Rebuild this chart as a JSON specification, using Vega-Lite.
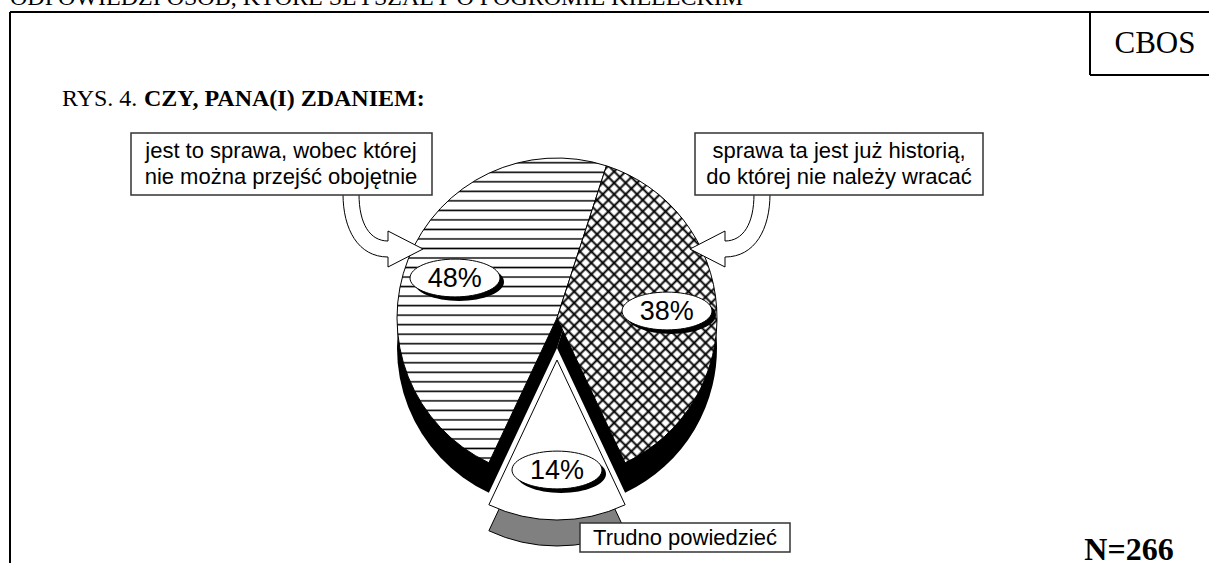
{
"$schema":"https://vega.github.io/schema/vega-lite/v6.json",
"width":1209,"height":563,
"autosize":{"type":"none"},
"padding":0,
"background":"#ffffff",
"config":{"view":{"stroke":null}},
"datasets":{"pie":[
{"k":1,"odp":"sprawa ta jest już historią, do której nie należy wracać","pct":38,"lab":"38%"},
{"k":2,"odp":"Trudno powiedzieć","pct":14,"lab":"14%"},
{"k":3,"odp":"jest to sprawa, wobec której nie można przejść obojętnie","pct":48,"lab":"48%"}
]},
"layer":[
{"data":{"values":[{}]},"mark":{"type":"text","font":"Liberation Serif","fontSize":24,"align":"left","baseline":"alphabetic"},"encoding":{"x":{"value":10},"y":{"value":5},"text":{"value":"ODPOWIEDZI OSÓB, KTÓRE SŁYSZAŁY O POGROMIE KIELECKIM"}}},
{"data":{"values":[{}]},"mark":{"type":"rule","strokeWidth":2,"color":"#000"},"encoding":{"x":{"value":10},"x2":{"value":1209},"y":{"value":12},"y2":{"value":12}}},
{"data":{"values":[{}]},"mark":{"type":"rule","strokeWidth":2,"color":"#000"},"encoding":{"x":{"value":10},"x2":{"value":10},"y":{"value":12},"y2":{"value":563}}},
{"data":{"values":[{}]},"mark":{"type":"rule","strokeWidth":2,"color":"#000"},"encoding":{"x":{"value":1090},"x2":{"value":1090},"y":{"value":12},"y2":{"value":75}}},
{"data":{"values":[{}]},"mark":{"type":"rule","strokeWidth":2,"color":"#000"},"encoding":{"x":{"value":1090},"x2":{"value":1209},"y":{"value":75},"y2":{"value":75}}},
{"data":{"values":[{}]},"mark":{"type":"text","font":"Liberation Serif","fontSize":31,"align":"center","baseline":"alphabetic"},"encoding":{"x":{"value":1155},"y":{"value":53},"text":{"value":"CBOS"}}},
{"data":{"values":[{}]},"mark":{"type":"text","font":"Liberation Serif","fontSize":24,"align":"left","baseline":"alphabetic"},"encoding":{"x":{"value":62},"y":{"value":106},"text":{"value":"RYS. 4."}}},
{"data":{"values":[{}]},"mark":{"type":"text","font":"Liberation Serif","fontSize":24,"fontWeight":"bold","align":"left","baseline":"alphabetic"},"encoding":{"x":{"value":144},"y":{"value":106},"text":{"value":"CZY, PANA(I) ZDANIEM:"}}},
{"data":{"name":"pie"},
 "encoding":{"theta":{"field":"pct","type":"quantitative","stack":true,"scale":{"range":[0.3142,6.5974]}},"order":{"field":"k","type":"quantitative"},"x":{"value":557}},
 "layer":[
  {"mark":{"type":"arc","radius":160,"fill":"#000"},"encoding":{"y":{"value":348},"opacity":{"condition":{"test":"datum.k == 2","value":0},"value":1}}},
  {"mark":{"type":"arc","radius":160,"fill":"#808080","stroke":"#000","strokeWidth":1},"encoding":{"y":{"value":386},"opacity":{"condition":{"test":"datum.k == 2","value":1},"value":0}}},
  {"mark":{"type":"arc","radius":160,"stroke":"#000","strokeWidth":1,"fill":{"gradient":"linear","x1":0,"y1":0,"x2":0,"y2":1,"stops":[
{"offset":0.0106,"color":"#fff"},{"offset":0.0156,"color":"#000"},{"offset":0.0206,"color":"#fff"},
{"offset":0.0419,"color":"#fff"},{"offset":0.0469,"color":"#000"},{"offset":0.0519,"color":"#fff"},
{"offset":0.0731,"color":"#fff"},{"offset":0.0781,"color":"#000"},{"offset":0.0831,"color":"#fff"},
{"offset":0.1044,"color":"#fff"},{"offset":0.1094,"color":"#000"},{"offset":0.1144,"color":"#fff"},
{"offset":0.1356,"color":"#fff"},{"offset":0.1406,"color":"#000"},{"offset":0.1456,"color":"#fff"},
{"offset":0.1669,"color":"#fff"},{"offset":0.1719,"color":"#000"},{"offset":0.1769,"color":"#fff"},
{"offset":0.1981,"color":"#fff"},{"offset":0.2031,"color":"#000"},{"offset":0.2081,"color":"#fff"},
{"offset":0.2294,"color":"#fff"},{"offset":0.2344,"color":"#000"},{"offset":0.2394,"color":"#fff"},
{"offset":0.2606,"color":"#fff"},{"offset":0.2656,"color":"#000"},{"offset":0.2706,"color":"#fff"},
{"offset":0.2919,"color":"#fff"},{"offset":0.2969,"color":"#000"},{"offset":0.3019,"color":"#fff"},
{"offset":0.3231,"color":"#fff"},{"offset":0.3281,"color":"#000"},{"offset":0.3331,"color":"#fff"},
{"offset":0.3544,"color":"#fff"},{"offset":0.3594,"color":"#000"},{"offset":0.3644,"color":"#fff"},
{"offset":0.3856,"color":"#fff"},{"offset":0.3906,"color":"#000"},{"offset":0.3956,"color":"#fff"},
{"offset":0.4169,"color":"#fff"},{"offset":0.4219,"color":"#000"},{"offset":0.4269,"color":"#fff"},
{"offset":0.4481,"color":"#fff"},{"offset":0.4531,"color":"#000"},{"offset":0.4581,"color":"#fff"},
{"offset":0.4794,"color":"#fff"},{"offset":0.4844,"color":"#000"},{"offset":0.4894,"color":"#fff"},
{"offset":0.5106,"color":"#fff"},{"offset":0.5156,"color":"#000"},{"offset":0.5206,"color":"#fff"},
{"offset":0.5419,"color":"#fff"},{"offset":0.5469,"color":"#000"},{"offset":0.5519,"color":"#fff"},
{"offset":0.5731,"color":"#fff"},{"offset":0.5781,"color":"#000"},{"offset":0.5831,"color":"#fff"},
{"offset":0.6044,"color":"#fff"},{"offset":0.6094,"color":"#000"},{"offset":0.6144,"color":"#fff"},
{"offset":0.6356,"color":"#fff"},{"offset":0.6406,"color":"#000"},{"offset":0.6456,"color":"#fff"},
{"offset":0.6669,"color":"#fff"},{"offset":0.6719,"color":"#000"},{"offset":0.6769,"color":"#fff"},
{"offset":0.6981,"color":"#fff"},{"offset":0.7031,"color":"#000"},{"offset":0.7081,"color":"#fff"},
{"offset":0.7294,"color":"#fff"},{"offset":0.7344,"color":"#000"},{"offset":0.7394,"color":"#fff"},
{"offset":0.7606,"color":"#fff"},{"offset":0.7656,"color":"#000"},{"offset":0.7706,"color":"#fff"},
{"offset":0.7919,"color":"#fff"},{"offset":0.7969,"color":"#000"},{"offset":0.8019,"color":"#fff"},
{"offset":0.8231,"color":"#fff"},{"offset":0.8281,"color":"#000"},{"offset":0.8331,"color":"#fff"},
{"offset":0.8544,"color":"#fff"},{"offset":0.8594,"color":"#000"},{"offset":0.8644,"color":"#fff"},
{"offset":0.8856,"color":"#fff"},{"offset":0.8906,"color":"#000"},{"offset":0.8956,"color":"#fff"},
{"offset":0.9169,"color":"#fff"},{"offset":0.9219,"color":"#000"},{"offset":0.9269,"color":"#fff"},
{"offset":0.9481,"color":"#fff"},{"offset":0.9531,"color":"#000"},{"offset":0.9581,"color":"#fff"},
{"offset":0.9794,"color":"#fff"},{"offset":0.9844,"color":"#000"},{"offset":0.9894,"color":"#fff"}
]}},"encoding":{"y":{"value":318},"opacity":{"condition":{"test":"datum.k == 3","value":1},"value":0}}},
  {"mark":{"type":"arc","radius":160,"fill":{"gradient":"linear","x1":0,"y1":0,"x2":0.6428,"y2":1.1926,"stops":[
{"offset":0.0065,"color":"#fff"},{"offset":0.0125,"color":"#000"},{"offset":0.0185,"color":"#fff"},
{"offset":0.0315,"color":"#fff"},{"offset":0.0375,"color":"#000"},{"offset":0.0435,"color":"#fff"},
{"offset":0.0565,"color":"#fff"},{"offset":0.0625,"color":"#000"},{"offset":0.0685,"color":"#fff"},
{"offset":0.0815,"color":"#fff"},{"offset":0.0875,"color":"#000"},{"offset":0.0935,"color":"#fff"},
{"offset":0.1065,"color":"#fff"},{"offset":0.1125,"color":"#000"},{"offset":0.1185,"color":"#fff"},
{"offset":0.1315,"color":"#fff"},{"offset":0.1375,"color":"#000"},{"offset":0.1435,"color":"#fff"},
{"offset":0.1565,"color":"#fff"},{"offset":0.1625,"color":"#000"},{"offset":0.1685,"color":"#fff"},
{"offset":0.1815,"color":"#fff"},{"offset":0.1875,"color":"#000"},{"offset":0.1935,"color":"#fff"},
{"offset":0.2065,"color":"#fff"},{"offset":0.2125,"color":"#000"},{"offset":0.2185,"color":"#fff"},
{"offset":0.2315,"color":"#fff"},{"offset":0.2375,"color":"#000"},{"offset":0.2435,"color":"#fff"},
{"offset":0.2565,"color":"#fff"},{"offset":0.2625,"color":"#000"},{"offset":0.2685,"color":"#fff"},
{"offset":0.2815,"color":"#fff"},{"offset":0.2875,"color":"#000"},{"offset":0.2935,"color":"#fff"},
{"offset":0.3065,"color":"#fff"},{"offset":0.3125,"color":"#000"},{"offset":0.3185,"color":"#fff"},
{"offset":0.3315,"color":"#fff"},{"offset":0.3375,"color":"#000"},{"offset":0.3435,"color":"#fff"},
{"offset":0.3565,"color":"#fff"},{"offset":0.3625,"color":"#000"},{"offset":0.3685,"color":"#fff"},
{"offset":0.3815,"color":"#fff"},{"offset":0.3875,"color":"#000"},{"offset":0.3935,"color":"#fff"},
{"offset":0.4065,"color":"#fff"},{"offset":0.4125,"color":"#000"},{"offset":0.4185,"color":"#fff"},
{"offset":0.4315,"color":"#fff"},{"offset":0.4375,"color":"#000"},{"offset":0.4435,"color":"#fff"},
{"offset":0.4565,"color":"#fff"},{"offset":0.4625,"color":"#000"},{"offset":0.4685,"color":"#fff"},
{"offset":0.4815,"color":"#fff"},{"offset":0.4875,"color":"#000"},{"offset":0.4935,"color":"#fff"},
{"offset":0.5065,"color":"#fff"},{"offset":0.5125,"color":"#000"},{"offset":0.5185,"color":"#fff"},
{"offset":0.5315,"color":"#fff"},{"offset":0.5375,"color":"#000"},{"offset":0.5435,"color":"#fff"},
{"offset":0.5565,"color":"#fff"},{"offset":0.5625,"color":"#000"},{"offset":0.5685,"color":"#fff"},
{"offset":0.5815,"color":"#fff"},{"offset":0.5875,"color":"#000"},{"offset":0.5935,"color":"#fff"},
{"offset":0.6065,"color":"#fff"},{"offset":0.6125,"color":"#000"},{"offset":0.6185,"color":"#fff"},
{"offset":0.6315,"color":"#fff"},{"offset":0.6375,"color":"#000"},{"offset":0.6435,"color":"#fff"},
{"offset":0.6565,"color":"#fff"},{"offset":0.6625,"color":"#000"},{"offset":0.6685,"color":"#fff"},
{"offset":0.6815,"color":"#fff"},{"offset":0.6875,"color":"#000"},{"offset":0.6935,"color":"#fff"},
{"offset":0.7065,"color":"#fff"},{"offset":0.7125,"color":"#000"},{"offset":0.7185,"color":"#fff"},
{"offset":0.7315,"color":"#fff"},{"offset":0.7375,"color":"#000"},{"offset":0.7435,"color":"#fff"},
{"offset":0.7565,"color":"#fff"},{"offset":0.7625,"color":"#000"},{"offset":0.7685,"color":"#fff"},
{"offset":0.7815,"color":"#fff"},{"offset":0.7875,"color":"#000"},{"offset":0.7935,"color":"#fff"},
{"offset":0.8065,"color":"#fff"},{"offset":0.8125,"color":"#000"},{"offset":0.8185,"color":"#fff"},
{"offset":0.8315,"color":"#fff"},{"offset":0.8375,"color":"#000"},{"offset":0.8435,"color":"#fff"},
{"offset":0.8565,"color":"#fff"},{"offset":0.8625,"color":"#000"},{"offset":0.8685,"color":"#fff"},
{"offset":0.8815,"color":"#fff"},{"offset":0.8875,"color":"#000"},{"offset":0.8935,"color":"#fff"},
{"offset":0.9065,"color":"#fff"},{"offset":0.9125,"color":"#000"},{"offset":0.9185,"color":"#fff"},
{"offset":0.9315,"color":"#fff"},{"offset":0.9375,"color":"#000"},{"offset":0.9435,"color":"#fff"},
{"offset":0.9565,"color":"#fff"},{"offset":0.9625,"color":"#000"},{"offset":0.9685,"color":"#fff"},
{"offset":0.9815,"color":"#fff"},{"offset":0.9875,"color":"#000"},{"offset":0.9935,"color":"#fff"}
]}},"encoding":{"y":{"value":318},"opacity":{"condition":{"test":"datum.k == 1","value":1},"value":0}}},
  {"mark":{"type":"arc","radius":160,"stroke":"#000","strokeWidth":1,"fill":{"gradient":"linear","x1":0,"y1":1,"x2":0.6428,"y2":-0.1926,"stops":[
{"offset":0.0065,"color":"rgba(0,0,0,0)"},{"offset":0.0125,"color":"#000"},{"offset":0.0185,"color":"rgba(0,0,0,0)"},
{"offset":0.0315,"color":"rgba(0,0,0,0)"},{"offset":0.0375,"color":"#000"},{"offset":0.0435,"color":"rgba(0,0,0,0)"},
{"offset":0.0565,"color":"rgba(0,0,0,0)"},{"offset":0.0625,"color":"#000"},{"offset":0.0685,"color":"rgba(0,0,0,0)"},
{"offset":0.0815,"color":"rgba(0,0,0,0)"},{"offset":0.0875,"color":"#000"},{"offset":0.0935,"color":"rgba(0,0,0,0)"},
{"offset":0.1065,"color":"rgba(0,0,0,0)"},{"offset":0.1125,"color":"#000"},{"offset":0.1185,"color":"rgba(0,0,0,0)"},
{"offset":0.1315,"color":"rgba(0,0,0,0)"},{"offset":0.1375,"color":"#000"},{"offset":0.1435,"color":"rgba(0,0,0,0)"},
{"offset":0.1565,"color":"rgba(0,0,0,0)"},{"offset":0.1625,"color":"#000"},{"offset":0.1685,"color":"rgba(0,0,0,0)"},
{"offset":0.1815,"color":"rgba(0,0,0,0)"},{"offset":0.1875,"color":"#000"},{"offset":0.1935,"color":"rgba(0,0,0,0)"},
{"offset":0.2065,"color":"rgba(0,0,0,0)"},{"offset":0.2125,"color":"#000"},{"offset":0.2185,"color":"rgba(0,0,0,0)"},
{"offset":0.2315,"color":"rgba(0,0,0,0)"},{"offset":0.2375,"color":"#000"},{"offset":0.2435,"color":"rgba(0,0,0,0)"},
{"offset":0.2565,"color":"rgba(0,0,0,0)"},{"offset":0.2625,"color":"#000"},{"offset":0.2685,"color":"rgba(0,0,0,0)"},
{"offset":0.2815,"color":"rgba(0,0,0,0)"},{"offset":0.2875,"color":"#000"},{"offset":0.2935,"color":"rgba(0,0,0,0)"},
{"offset":0.3065,"color":"rgba(0,0,0,0)"},{"offset":0.3125,"color":"#000"},{"offset":0.3185,"color":"rgba(0,0,0,0)"},
{"offset":0.3315,"color":"rgba(0,0,0,0)"},{"offset":0.3375,"color":"#000"},{"offset":0.3435,"color":"rgba(0,0,0,0)"},
{"offset":0.3565,"color":"rgba(0,0,0,0)"},{"offset":0.3625,"color":"#000"},{"offset":0.3685,"color":"rgba(0,0,0,0)"},
{"offset":0.3815,"color":"rgba(0,0,0,0)"},{"offset":0.3875,"color":"#000"},{"offset":0.3935,"color":"rgba(0,0,0,0)"},
{"offset":0.4065,"color":"rgba(0,0,0,0)"},{"offset":0.4125,"color":"#000"},{"offset":0.4185,"color":"rgba(0,0,0,0)"},
{"offset":0.4315,"color":"rgba(0,0,0,0)"},{"offset":0.4375,"color":"#000"},{"offset":0.4435,"color":"rgba(0,0,0,0)"},
{"offset":0.4565,"color":"rgba(0,0,0,0)"},{"offset":0.4625,"color":"#000"},{"offset":0.4685,"color":"rgba(0,0,0,0)"},
{"offset":0.4815,"color":"rgba(0,0,0,0)"},{"offset":0.4875,"color":"#000"},{"offset":0.4935,"color":"rgba(0,0,0,0)"},
{"offset":0.5065,"color":"rgba(0,0,0,0)"},{"offset":0.5125,"color":"#000"},{"offset":0.5185,"color":"rgba(0,0,0,0)"},
{"offset":0.5315,"color":"rgba(0,0,0,0)"},{"offset":0.5375,"color":"#000"},{"offset":0.5435,"color":"rgba(0,0,0,0)"},
{"offset":0.5565,"color":"rgba(0,0,0,0)"},{"offset":0.5625,"color":"#000"},{"offset":0.5685,"color":"rgba(0,0,0,0)"},
{"offset":0.5815,"color":"rgba(0,0,0,0)"},{"offset":0.5875,"color":"#000"},{"offset":0.5935,"color":"rgba(0,0,0,0)"},
{"offset":0.6065,"color":"rgba(0,0,0,0)"},{"offset":0.6125,"color":"#000"},{"offset":0.6185,"color":"rgba(0,0,0,0)"},
{"offset":0.6315,"color":"rgba(0,0,0,0)"},{"offset":0.6375,"color":"#000"},{"offset":0.6435,"color":"rgba(0,0,0,0)"},
{"offset":0.6565,"color":"rgba(0,0,0,0)"},{"offset":0.6625,"color":"#000"},{"offset":0.6685,"color":"rgba(0,0,0,0)"},
{"offset":0.6815,"color":"rgba(0,0,0,0)"},{"offset":0.6875,"color":"#000"},{"offset":0.6935,"color":"rgba(0,0,0,0)"},
{"offset":0.7065,"color":"rgba(0,0,0,0)"},{"offset":0.7125,"color":"#000"},{"offset":0.7185,"color":"rgba(0,0,0,0)"},
{"offset":0.7315,"color":"rgba(0,0,0,0)"},{"offset":0.7375,"color":"#000"},{"offset":0.7435,"color":"rgba(0,0,0,0)"},
{"offset":0.7565,"color":"rgba(0,0,0,0)"},{"offset":0.7625,"color":"#000"},{"offset":0.7685,"color":"rgba(0,0,0,0)"},
{"offset":0.7815,"color":"rgba(0,0,0,0)"},{"offset":0.7875,"color":"#000"},{"offset":0.7935,"color":"rgba(0,0,0,0)"},
{"offset":0.8065,"color":"rgba(0,0,0,0)"},{"offset":0.8125,"color":"#000"},{"offset":0.8185,"color":"rgba(0,0,0,0)"},
{"offset":0.8315,"color":"rgba(0,0,0,0)"},{"offset":0.8375,"color":"#000"},{"offset":0.8435,"color":"rgba(0,0,0,0)"},
{"offset":0.8565,"color":"rgba(0,0,0,0)"},{"offset":0.8625,"color":"#000"},{"offset":0.8685,"color":"rgba(0,0,0,0)"},
{"offset":0.8815,"color":"rgba(0,0,0,0)"},{"offset":0.8875,"color":"#000"},{"offset":0.8935,"color":"rgba(0,0,0,0)"},
{"offset":0.9065,"color":"rgba(0,0,0,0)"},{"offset":0.9125,"color":"#000"},{"offset":0.9185,"color":"rgba(0,0,0,0)"},
{"offset":0.9315,"color":"rgba(0,0,0,0)"},{"offset":0.9375,"color":"#000"},{"offset":0.9435,"color":"rgba(0,0,0,0)"},
{"offset":0.9565,"color":"rgba(0,0,0,0)"},{"offset":0.9625,"color":"#000"},{"offset":0.9685,"color":"rgba(0,0,0,0)"},
{"offset":0.9815,"color":"rgba(0,0,0,0)"},{"offset":0.9875,"color":"#000"},{"offset":0.9935,"color":"rgba(0,0,0,0)"}
]}},"encoding":{"y":{"value":318},"opacity":{"condition":{"test":"datum.k == 1","value":1},"value":0}}},
  {"mark":{"type":"arc","radius":160,"fill":"#fff","stroke":"#000","strokeWidth":1},"encoding":{"y":{"value":360},"opacity":{"condition":{"test":"datum.k == 2","value":1},"value":0}}}
 ]},
{"data":{"values":[{}]},"mark":{"type":"point","shape":"M0,0 C0,35 15,63 45,63 L45,73 L80,55 L45,37 L45,47 C27,47 16,30 16,0 Z","size":4,"filled":true,"fill":"#fff","stroke":"#000","strokeWidth":1,"opacity":1},"encoding":{"x":{"value":343},"y":{"value":194}}},
{"data":{"values":[{}]},"mark":{"type":"point","shape":"M0,0 C0,35 -15,63 -45,63 L-45,73 L-80,55 L-45,37 L-45,47 C-27,47 -16,30 -16,0 Z","size":4,"filled":true,"fill":"#fff","stroke":"#000","strokeWidth":1,"opacity":1},"encoding":{"x":{"value":770},"y":{"value":194}}},
{"data":{"values":[{}]},"mark":{"type":"point","shape":"M-1,0 A1,0.42 0 1,1 1,0 A1,0.42 0 1,1 -1,0 Z","size":8100,"filled":true,"fill":"#000","opacity":1,"strokeWidth":0},"encoding":{"x":{"value":459},"y":{"value":282}}},
{"data":{"values":[{}]},"mark":{"type":"point","shape":"M-1,0 A1,0.42 0 1,1 1,0 A1,0.42 0 1,1 -1,0 Z","size":8100,"filled":true,"fill":"#fff","stroke":"#000","strokeWidth":1,"opacity":1},"encoding":{"x":{"value":455},"y":{"value":278}}},
{"data":{"values":[{}]},"mark":{"type":"point","shape":"M-1,0 A1,0.42 0 1,1 1,0 A1,0.42 0 1,1 -1,0 Z","size":8100,"filled":true,"fill":"#000","opacity":1,"strokeWidth":0},"encoding":{"x":{"value":671},"y":{"value":315}}},
{"data":{"values":[{}]},"mark":{"type":"point","shape":"M-1,0 A1,0.42 0 1,1 1,0 A1,0.42 0 1,1 -1,0 Z","size":8100,"filled":true,"fill":"#fff","stroke":"#000","strokeWidth":1,"opacity":1},"encoding":{"x":{"value":667},"y":{"value":311}}},
{"data":{"values":[{}]},"mark":{"type":"point","shape":"M-1,0 A1,0.42 0 1,1 1,0 A1,0.42 0 1,1 -1,0 Z","size":8100,"filled":true,"fill":"#000","opacity":1,"strokeWidth":0},"encoding":{"x":{"value":561},"y":{"value":474}}},
{"data":{"values":[{}]},"mark":{"type":"point","shape":"M-1,0 A1,0.42 0 1,1 1,0 A1,0.42 0 1,1 -1,0 Z","size":8100,"filled":true,"fill":"#fff","stroke":"#000","strokeWidth":1,"opacity":1},"encoding":{"x":{"value":557},"y":{"value":470}}},
{"data":{"name":"pie"},
 "encoding":{"theta":{"field":"pct","type":"quantitative","stack":true,"scale":{"range":[0.3142,6.5974]}},"order":{"field":"k","type":"quantitative"},"x":{"value":557},"text":{"field":"lab"}},
 "layer":[
  {"mark":{"type":"text","radius":110,"font":"Liberation Sans","fontSize":27,"align":"center","baseline":"middle","color":"#000"},"encoding":{"y":{"value":319},"opacity":{"condition":{"test":"datum.k == 2","value":0},"value":1}}},
  {"mark":{"type":"text","radius":110,"font":"Liberation Sans","fontSize":27,"align":"center","baseline":"middle","color":"#000"},"encoding":{"y":{"value":361},"opacity":{"condition":{"test":"datum.k == 2","value":1},"value":0}}}
 ]},
{"data":{"values":[{}]},"mark":{"type":"rect","fill":"#fff","stroke":"#333","strokeWidth":1.5},"encoding":{"x":{"value":131},"x2":{"value":432},"y":{"value":133},"y2":{"value":195}}},
{"data":{"values":[{}]},"mark":{"type":"text","font":"Liberation Sans","fontSize":22,"align":"center","baseline":"alphabetic","lineHeight":26},"encoding":{"x":{"value":281},"y":{"value":158},"text":{"value":["jest to sprawa, wobec której","nie można przejść obojętnie"]}}},
{"data":{"values":[{}]},"mark":{"type":"rect","fill":"#fff","stroke":"#333","strokeWidth":1.5},"encoding":{"x":{"value":695},"x2":{"value":983},"y":{"value":133},"y2":{"value":195}}},
{"data":{"values":[{}]},"mark":{"type":"text","font":"Liberation Sans","fontSize":22,"align":"center","baseline":"alphabetic","lineHeight":26},"encoding":{"x":{"value":839},"y":{"value":158},"text":{"value":["sprawa ta jest już historią,","do której nie należy wracać"]}}},
{"data":{"values":[{}]},"mark":{"type":"rect","fill":"#fff","stroke":"#333","strokeWidth":1.5},"encoding":{"x":{"value":580},"x2":{"value":790},"y":{"value":523},"y2":{"value":552}}},
{"data":{"values":[{}]},"mark":{"type":"text","font":"Liberation Sans","fontSize":22,"align":"center","baseline":"alphabetic"},"encoding":{"x":{"value":685},"y":{"value":545},"text":{"value":"Trudno powiedzieć"}}},
{"data":{"values":[{}]},"mark":{"type":"text","font":"Liberation Serif","fontSize":32,"fontWeight":"bold","align":"center","baseline":"alphabetic"},"encoding":{"x":{"value":1129},"y":{"value":560},"text":{"value":"N=266"}}}
]
}
